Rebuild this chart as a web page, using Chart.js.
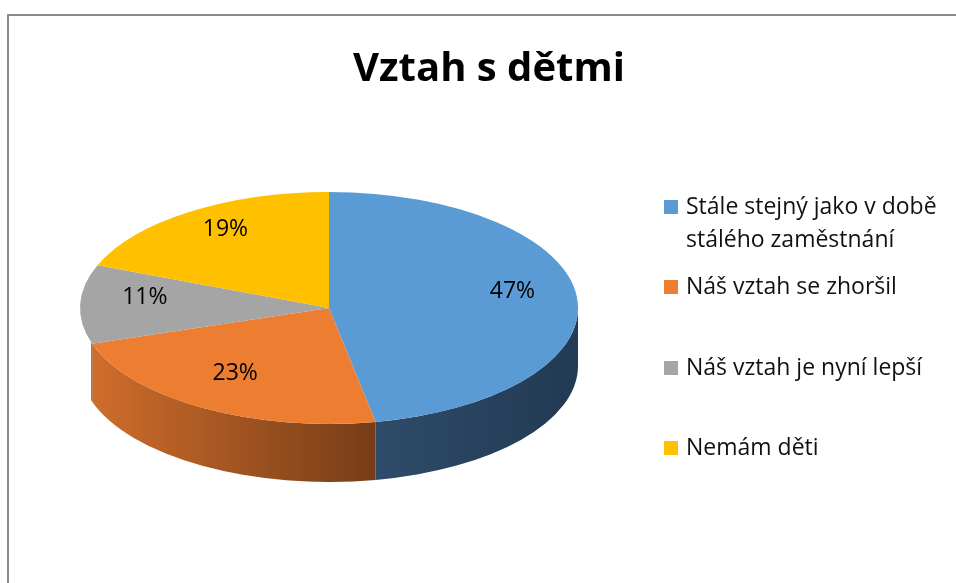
<!DOCTYPE html>
<html>
<head>
<meta charset="utf-8">
<script src="https://cdn.jsdelivr.net/npm/chart.js@4.4.1/dist/chart.umd.min.js"></script>
<style>
  body { margin: 0; background: #fff; }
  canvas { display: block; }
</style>
</head>
<body>
<canvas id="pie" width="956" height="583"></canvas>
<script>
// data
const categories = [
    ['Stále stejný jako v době', 'stálého zaměstnání'],
    ['Náš vztah se zhoršil'],
    ['Náš vztah je nyní lepší'],
    ['Nemám děti']
];
const shares = [47, 23, 11, 19];
const titleText = 'Vztah s dětmi';

// look
const topColors = ['#5b9bd5', '#ed7d31', '#a5a5a5', '#ffc000'];
const wallLight = ['#2e4b69', '#cf6d2b', '#7d7d7d', '#c09000'];
const wallDark = ['#223a53', '#763c17', '#555555', '#8a6700'];
const SQUASH = 116 / 249;   // vertical flattening of the top face
const DEPTH = 58;           // thickness of the pie
const WALL_END = Math.PI - 0.3; // left silhouette, a bit below the middle line

function topFaceMatrix(ctx, cx, cy) {
    ctx.translate(cx, cy);
    ctx.scale(1, SQUASH);
    ctx.translate(-cx, -cy);
}

const pie3d = {
    id: 'pie3d',
    beforeDatasetsDraw(chart) {
        const ctx = chart.ctx;
        const arcs = chart.getDatasetMeta(0).data;
        // side walls, front part only
        arcs.forEach((arc, i) => {
            const { x, y, outerRadius, startAngle, endAngle } = arc.getProps(['x', 'y', 'outerRadius', 'startAngle', 'endAngle'], true);
            const a0 = Math.max(startAngle, 0);
            const a1 = Math.min(endAngle, WALL_END);
            if (a1 <= a0) return;
            const ry = outerRadius * SQUASH;
            const xLeft = x + outerRadius * Math.cos(a1);
            const xRight = x + outerRadius * Math.cos(a0);
            const grad = ctx.createLinearGradient(xLeft, 0, xRight, 0);
            grad.addColorStop(0, wallLight[i]);
            grad.addColorStop(1, wallDark[i]);
            ctx.save();
            ctx.beginPath();
            ctx.ellipse(x, y, outerRadius, ry, 0, a0, a1, false);
            ctx.lineTo(x + outerRadius * Math.cos(a1), y + ry * Math.sin(a1) + DEPTH);
            ctx.ellipse(x, y + DEPTH, outerRadius, ry, 0, a1, a0, true);
            ctx.closePath();
            ctx.fillStyle = grad;
            ctx.fill();
            ctx.restore();
        });
        const a = arcs[0];
        ctx.save();
        topFaceMatrix(ctx, a.x, a.y);
    },
    afterDatasetsDraw(chart) {
        const ctx = chart.ctx;
        ctx.restore();
        // percentage labels on the top face
        const arcs = chart.getDatasetMeta(0).data;
        ctx.save();
        ctx.font = '23px "Open Sans"';
        ctx.fillStyle = '#000';
        ctx.textAlign = 'center';
        ctx.textBaseline = 'middle';
        arcs.forEach((arc, i) => {
            const { x, y, outerRadius, startAngle, endAngle } = arc.getProps(['x', 'y', 'outerRadius', 'startAngle', 'endAngle'], true);
            const mid = (startAngle + endAngle) / 2;
            const r = outerRadius * 0.74;
            ctx.fillText(shares[i] + '%', x + r * Math.cos(mid), y + r * SQUASH * Math.sin(mid) - 8);
        });
        ctx.restore();
    },
    afterDraw(chart) {
        const ctx = chart.ctx;
        ctx.save();
        // frame
        ctx.strokeStyle = '#8c8c8c';
        ctx.lineWidth = 2;
        ctx.beginPath();
        ctx.moveTo(8, 583);
        ctx.lineTo(8, 15);
        ctx.lineTo(956, 15);
        ctx.stroke();
        // title
        ctx.fillStyle = '#000';
        ctx.font = 'bold 40px "Open Sans"';
        ctx.textAlign = 'center';
        ctx.textBaseline = 'alphabetic';
        ctx.fillText(titleText, 489, 81);
        // legend
        const rows = [207, 287, 368, 448];
        ctx.font = '23px "Open Sans"';
        ctx.textAlign = 'left';
        ctx.textBaseline = 'middle';
        categories.forEach((lines, i) => {
            ctx.fillStyle = topColors[i];
            ctx.fillRect(664, rows[i] - 7, 14, 14);
            ctx.fillStyle = '#111';
            lines.forEach((t, j) => ctx.fillText(t, 686, rows[i] + j * 33));
        });
        ctx.restore();
    }
};

new Chart(document.getElementById('pie'), {
    type: 'pie',
    data: {
        labels: categories.map(l => l.join(' ')),
        datasets: [{
            data: shares,
            backgroundColor: topColors,
            borderWidth: 0
        }]
    },
    options: {
        responsive: false,
        animation: false,
        events: [],
        layout: { padding: { left: 80, right: 378, top: 59, bottom: 26 } },
        plugins: {
            legend: { display: false },
            title: { display: false },
            tooltip: { enabled: false }
        }
    },
    plugins: [pie3d]
});
</script>
</body>
</html>
